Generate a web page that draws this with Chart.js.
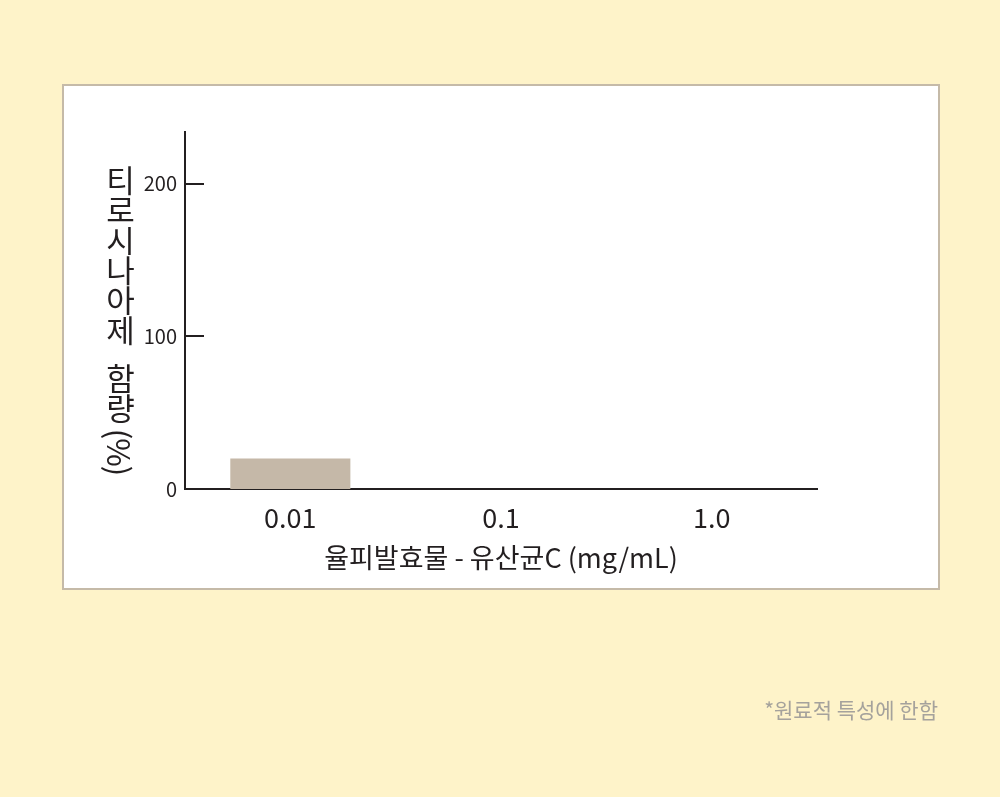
<!DOCTYPE html>
<html>
<head>
<meta charset="utf-8">
<script src="https://cdn.jsdelivr.net/npm/chart.js@4.4.1/dist/chart.umd.min.js"></script>
<style>
    body { margin: 0; background: #fef3c9; font-family: "Noto Sans CJK KR", sans-serif; }
    #stage { position: relative; width: 1000px; height: 797px; overflow: hidden; }
    #panel { position: absolute; left: 62px; top: 84px; width: 874px; height: 502px; background: #fff; border: 2px solid #c5baa8; }
    #myChart { position: absolute; left: 0; top: 0; }
    #ytitle { position: absolute; left: 105px; top: 165px; writing-mode: vertical-rl; font-size: 31px; line-height: 1; letter-spacing: -1px; white-space: pre; color: #231f20; }
    #note { position: absolute; right: 62px; top: 699px; font-size: 21px; line-height: 21px; color: #a5a29c; }
</style>
</head>
<body>
<div id="stage">
    <div id="panel"></div>
    <canvas id="myChart" width="1000" height="797"></canvas>
    <div id="ytitle">티로시나아제   함량 (%)</div>
    <div id="note">*원료적 특성에 한함</div>
</div>
<script>
    // values
    const categories = ['0.01', '0.1', '1.0'];
    const values = [20, 0, 0];
    const yTicks = [0, 100, 200];
    const yMax = 234;
    const xTitle = '율피발효물 - 유산균C (mg/mL)';

    const ink = '#231f20';

    // short tick marks pointing into the plot, like the original
    const innerTicks = {
        id: 'innerTicks',
        afterDraw(chart) {
            const y = chart.scales.y;
            const ctx = chart.ctx;
            ctx.save();
            ctx.strokeStyle = ink;
            ctx.lineWidth = 2;
            y.ticks.forEach(t => {
                if (t.value === 0) return;
                const py = Math.round(y.getPixelForValue(t.value));
                ctx.beginPath();
                ctx.moveTo(y.right, py);
                ctx.lineTo(y.right + 19, py);
                ctx.stroke();
            });
            ctx.restore();
        }
    };

    const ctx = document.getElementById('myChart').getContext('2d');
    new Chart(ctx, {
        type: 'bar',
        data: {
            labels: categories,
            datasets: [{
                data: values,
                backgroundColor: '#c5b8a8',
                borderWidth: 0,
                categoryPercentage: 1,
                barPercentage: 0.57
            }]
        },
        options: {
            responsive: false,
            animation: false,
            devicePixelRatio: 1,
            layout: { padding: { left: 62, right: 183, top: 132, bottom: 208 } },
            plugins: { legend: { display: false }, tooltip: { enabled: false } },
            scales: {
                x: {
                    grid: { display: false, drawTicks: false },
                    border: { display: true, color: ink, width: 2 },
                    ticks: { color: ink, padding: 13, font: { family: 'Noto Sans CJK KR', size: 27 } },
                    title: {
                        display: true,
                        text: xTitle,
                        color: ink,
                        padding: { top: 0, bottom: 15 },
                        font: { family: 'Noto Sans CJK KR', size: 27 }
                    },
                    afterFit(scale) { scale.height = 100; }
                },
                y: {
                    min: 0,
                    max: yMax,
                    grid: { display: false, drawTicks: false },
                    border: { display: true, color: ink, width: 2 },
                    ticks: { color: ink, padding: 8, font: { family: 'Noto Sans CJK KR', size: 20 } },
                    afterBuildTicks(scale) { scale.ticks = yTicks.map(v => ({ value: v })); },
                    afterFit(scale) { scale.width = 123; }
                }
            }
        },
        plugins: [innerTicks]
    });
</script>
</body>
</html>
